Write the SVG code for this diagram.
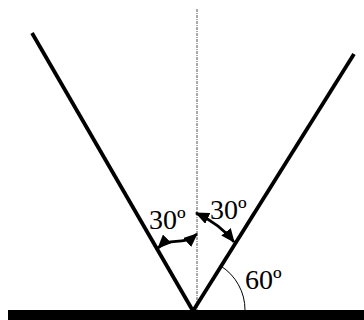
<svg xmlns="http://www.w3.org/2000/svg" width="364" height="320" viewBox="0 0 364 320">
<style>
.ray{stroke:#000;stroke-width:3.8;fill:none}
.lbl{font-family:'Liberation Serif','Times New Roman',serif;font-size:28px;fill:#000}
.arr{stroke:#000;stroke-width:2.8;fill:none}
</style>
<defs>
<marker id="ah" viewBox="0 0 14 12" refX="13" refY="6" markerWidth="14" markerHeight="12" markerUnits="userSpaceOnUse" orient="auto-start-reverse">
<path d="M0,0 L14,6 L0,12 z" fill="#000"/>
</marker>
</defs>
<rect id="surface" x="8" y="310" width="356" height="10" fill="#000"/>
<g id="normal"><line x1="197" y1="9" x2="197" y2="310" stroke="#555" stroke-width="1" stroke-dasharray="3,1,1,1"/></g>
<g id="connectors">
<line id="incident" class="ray" x1="32" y1="33" x2="193" y2="311"/>
<line id="reflected" class="ray" x1="354" y1="54" x2="193" y2="311"/>
<path id="arc60" d="M245,310 A52,52 0 0 0 220.6,265.9" fill="none" stroke="#000" stroke-width="1"/>
<path class="arr" d="M158,248 C170,236 182,247 197,234" marker-start="url(#ah)" marker-end="url(#ah)"/>
<path class="arr" d="M196,213 Q220,224 234,242" marker-start="url(#ah)" marker-end="url(#ah)"/>
</g>
<g id="labels">
<text class="lbl" x="149" y="229">30º</text>
<text class="lbl" x="210" y="219">30º</text>
<text class="lbl" x="245" y="289">60º</text>
</g>
</svg>
